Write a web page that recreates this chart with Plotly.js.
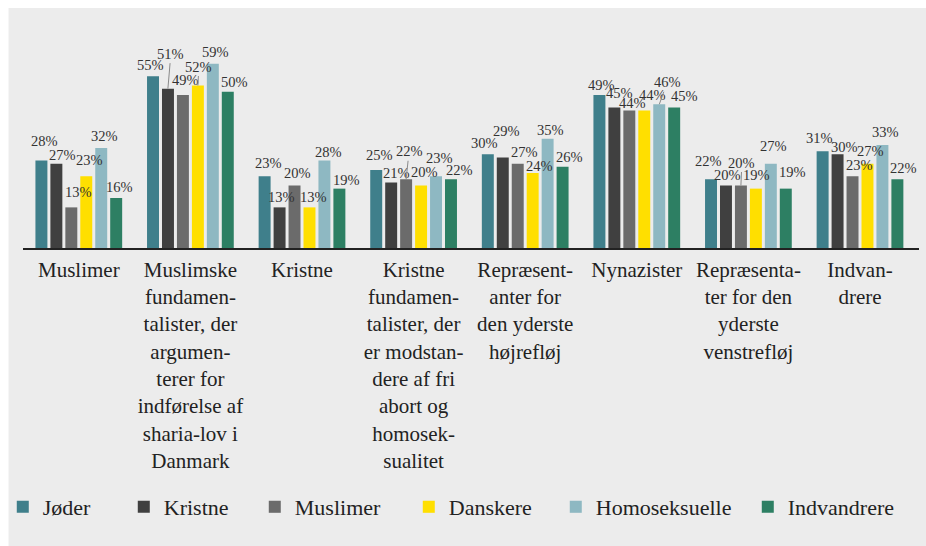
<!DOCTYPE html>
<html><head><meta charset="utf-8">
<script src="https://cdn.plot.ly/plotly-3.0.1.min.js"></script>
<style>html,body{margin:0;padding:0;background:#fff}#chart{width:926px;height:546px}</style>
</head><body><div id="chart"></div>
<script>
const categories = [
  "Muslimer",
  "Muslimske<br>fundamen-<br>talister, der<br>argumen-<br>terer for<br>indførelse af<br>sharia-lov i<br>Danmark",
  "Kristne",
  "Kristne<br>fundamen-<br>talister, der<br>er modstan-<br>dere af fri<br>abort og<br>homosek-<br>sualitet",
  "Repræsent-<br>anter for<br>den yderste<br>højrefløj",
  "Nynazister",
  "Repræsenta-<br>ter for den<br>yderste<br>venstrefløj",
  "Indvan-<br>drere"
];
const seriesNames = ["Jøder","Kristne","Muslimer","Danskere","Homoseksuelle","Indvandrere"];
const joder         = [28,55,23,25,30,49,22,31];
const kristne       = [27,51,13,21,29,45,20,30];
const muslimer      = [13,49,20,22,27,44,20,23];
const danskere      = [23,52,13,20,24,44,19,27];
const homoseksuelle = [32,59,28,23,35,46,27,33];
const indvandrere   = [16,50,19,22,26,45,19,22];
const seriesValues = [joder,kristne,muslimer,danskere,homoseksuelle,indvandrere];

// styling
const colors = ["#3f7f8b","#404040","#6b6b6b","#ffdf00","#8eb8c2","#2d7f63"];
const legendWidths = [76, 86, 109, 102, 147, 108];
const FONT = "Liberation Serif, Times New Roman, serif";
// label placement nudges in px per series per category: [dx, up]; leader labels use [ax, ay, 'L']
const labelNudges = [
  [[3,14],[-2,5],[4,7],[3,9],[-3,5],[2,4],[-2,12],[-3,7]],
  [[6,3],[3,-35,'L'],[2,4],[5,3],[4,20],[5,8],[2,5],[7,1]],
  [[7,9],[3,9],[3,7],[3,-28,'L'],[7,6],[3,2],[1,-23,'L'],[7,5]],
  [[3,10],[1,-19,'L'],[4,4],[3,8],[7,1],[8,10],[1,8],[3,7]],
  [[3,6],[3,6],[4,3],[3,12],[3,3],[8,-22,'L'],[3,12],[3,7]],
  [[3,5],[7,4],[7,3],[8,3],[7,4],[10,5],[7,11],[6,5]]
];
const SLOT = 15;   // px per bar slot within a group
const PAD = 4;     // annotation box padding below glyph baseline

const traces = seriesNames.map((name,i)=>({
  type:'bar', name:name, x:categories, y:seriesValues[i],
  marker:{color:colors[i], line:{width:0}},
  legendwidth:legendWidths[i],
  hoverinfo:'none'
}));

const annotations = [];
seriesValues.forEach((vals,i)=>{
  const off = (i-2.5)*SLOT;
  vals.forEach((v,j)=>{
    const n = labelNudges[i][j];
    const base = {x:categories[j], y:v, xref:'x', yref:'y', text:v+'%',
      font:{family:FONT,size:14.5,color:'#333'}};
    if (n[2]==='L') {
      annotations.push(Object.assign(base,{showarrow:true, arrowhead:0, arrowwidth:1,
        arrowcolor:'#8a8a8a', standoff:0, startstandoff:0, ax:n[0], ay:n[1],
        xshift:off}));
    } else {
      annotations.push(Object.assign(base,{showarrow:false, xanchor:'center', yanchor:'bottom',
        xshift:off+n[0], yshift:n[1]-PAD}));
    }
  });
});

const layout = {
  width:926, height:546,
  paper_bgcolor:'#ffffff', plot_bgcolor:'rgba(0,0,0,0)',
  margin:{l:22.5, r:7, t:28, b:298},
  barmode:'group', bargap:0.196, bargroupgap:0.2,
  font:{family:FONT, color:'#222'},
  xaxis:{showline:true, linecolor:'#222', linewidth:1.5, ticks:'', showgrid:false,
         tickfont:{family:FONT,size:21,color:'#222'}, tickangle:0, automargin:false,
         ticklabelstandoff:2},
  yaxis:{range:[0,70.4], visible:false, showgrid:false, zeroline:false, fixedrange:true},
  showlegend:true,
  legend:{orientation:'h', xref:'container', yref:'container', x:0.003, y:1-507/546,
          xanchor:'left', yanchor:'middle', traceorder:'normal',
          font:{family:FONT,size:22,color:'#222'}, bgcolor:'rgba(0,0,0,0)'},
  annotations:annotations,
  shapes:[{type:'rect', xref:'paper', yref:'paper', layer:'below',
           x0:(8-22.5)/896.5, x1:(926-22.5)/896.5, y0:-298/220, y1:(248-8)/220,
           fillcolor:'#ececec', line:{width:0}}]
};
Plotly.newPlot('chart', traces, layout, {displayModeBar:false, staticPlot:true});
</script></body></html>
